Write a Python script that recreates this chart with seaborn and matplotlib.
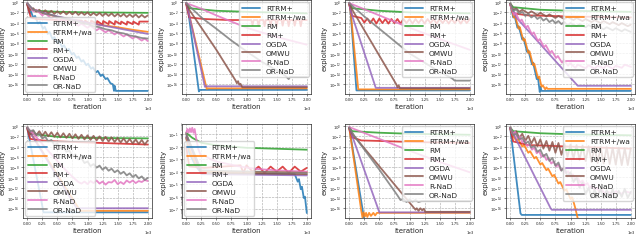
import seaborn as sns
import matplotlib
matplotlib.use("Agg")
import matplotlib.pyplot as plt
import pandas as pd
import numpy as np
from matplotlib.ticker import MultipleLocator, ScalarFormatter

methods = ["RTRM+", "RTRM+/wa", "RM", "RM+", "OGDA", "OMWU", "R-NaD", "OR-NaD"]

# every series: (iteration, log10 exploitability)

# ---- panel 1 (top left)
a1_rtrm = [(0, -0.3), (40, -2.2), (60, -1.8), (100, -3.0), (130, -2.7), (180, -4.2), (210, -3.8), (260, -5.2),
           (290, -4.8), (340, -6.2), (370, -5.8), (420, -7.2), (450, -6.8), (500, -8.0), (530, -7.6), (580, -8.8),
           (610, -8.4), (660, -9.5), (690, -9.1), (740, -10.2), (770, -9.9), (820, -10.9), (850, -10.6),
           (900, -11.6), (930, -11.3), (980, -12.3), (1010, -12.0), (1060, -13.0), (1090, -12.7), (1140, -13.7),
           (1170, -13.4), (1220, -14.4), (1250, -14.1), (1300, -15.0), (1330, -14.8), (1380, -15.8), (1420, -16.0),
           (1440, -17.3), (1450, -16.3), (1470, -17.3), (2000, -17.3)]
a1_wa = [(0, -0.3), (50, -1.3), (250, -2.1), (500, -2.9), (750, -3.5), (1000, -4.0), (1250, -4.5), (1500, -4.9),
         (1750, -5.4), (2000, -5.8)]
a1_rm = [(0, -0.3), (50, -1.3), (150, -1.7), (500, -1.9), (1000, -2.0), (1500, -2.05), (2000, -2.1)]
a1_rmp = [(0, -0.5), (60, -3.0), (150, -3.3), (500, -3.5), (900, -3.6), (950, -4.2), (960, -3.6), (1050, -4.3),
          (1060, -3.6), (1150, -4.2), (1160, -3.7), (1250, -4.4), (1260, -3.7), (1350, -4.3), (1360, -3.7),
          (1450, -4.4), (1460, -3.7), (1550, -4.3), (1560, -3.8), (1650, -4.4), (1660, -3.8), (1750, -4.3),
          (1760, -3.8), (1850, -4.4), (1860, -3.8), (2000, -3.8)]
a1_ogda = [(0, -0.3), (100, -1.5), (500, -2.8), (1000, -4.0), (1500, -5.1), (2000, -6.2)]
a1_omwu = [(0, -0.5), (50, -1.6), (100, -1.2), (150, -1.9), (200, -1.5), (250, -2.1), (300, -1.6), (350, -2.2),
           (400, -1.7), (450, -2.3), (500, -1.8), (550, -2.3), (600, -1.8), (650, -2.4), (700, -1.9), (750, -2.4),
           (800, -1.9), (850, -2.5), (900, -2.0), (950, -2.5), (1000, -2.0), (1050, -2.6), (1100, -2.1),
           (1150, -2.6), (1200, -2.1), (1250, -2.7), (1300, -2.2), (1350, -2.7), (1400, -2.2), (1450, -2.8),
           (1500, -2.3), (1550, -2.8), (1600, -2.3), (1650, -2.9), (1700, -2.4), (1750, -2.9), (1800, -2.4),
           (1850, -3.0), (1900, -2.5), (1950, -3.0), (2000, -2.6)]
a1_rnad = [(0, -0.2), (100, -1.8), (150, -1.5), (250, -2.6), (300, -2.2), (400, -3.2), (450, -2.8), (550, -3.7),
           (600, -3.3), (700, -4.2), (750, -3.8), (850, -4.6), (900, -4.2), (1000, -5.0), (1050, -4.6),
           (1150, -5.5), (1200, -5.1), (1300, -5.9), (1350, -5.5), (1450, -6.3), (1500, -5.9), (1600, -6.7),
           (1650, -6.3), (1750, -7.1), (1800, -6.7), (1900, -7.5), (1950, -7.1), (2000, -7.6)]
a1_ornad = [(0, -0.2), (100, -1.5), (200, -1.8), (300, -2.3), (400, -2.5), (500, -2.9), (600, -3.1), (700, -3.5),
            (800, -3.7), (900, -4.1), (1000, -4.3), (1100, -4.7), (1200, -4.9), (1300, -5.3), (1400, -5.5),
            (1500, -5.9), (1600, -6.1), (1700, -6.5), (1800, -6.7), (1900, -7.0), (2000, -7.1)]

# ---- panel 2
a2_rtrm = [(0, -0.2), (30, -1.5), (210, -17.4), (230, -17.1), (2000, -17.1)]
a2_wa = [(0, -0.2), (40, -2.0), (340, -16.9), (360, -16.8), (2000, -16.8)]
a2_rm = [(0, -0.2), (50, -1.2), (500, -1.7), (1000, -1.9), (2000, -2.2)]
a2_rmp = [(0, -0.5), (50, -3.0), (300, -3.3), (700, -3.5), (1080, -3.5), (1100, -4.5), (1120, -3.5),
          (1180, -3.5), (1200, -4.6), (1220, -3.5), (1280, -3.5), (1300, -4.7), (1320, -3.5), (1380, -3.5),
          (1400, -4.6), (1420, -3.5), (1480, -3.5), (1500, -4.7), (1520, -3.5), (1580, -3.5), (1600, -4.6),
          (1620, -3.5), (1680, -3.5), (1700, -4.7), (1720, -3.5), (1780, -3.5), (1800, -4.6), (1820, -3.5),
          (1880, -3.5), (1900, -4.7), (1920, -3.5), (2000, -3.5)]
a2_ogda = [(0, -0.2), (40, -2.0), (310, -16.5), (330, -16.4), (2000, -16.4)]
a2_omwu = [(0, -0.3), (50, -1.5), (500, -9.3), (820, -15.3), (840, -15.8), (860, -15.4), (880, -16.1),
           (900, -15.9), (930, -16.6), (2000, -16.6)]
a2_rnad = [(0, -0.2), (250, -1.3), (500, -2.6), (1000, -5.0), (1500, -6.8), (2000, -8.3)]
a2_ornad = [(0, -0.2), (250, -3.0), (500, -5.2), (750, -7.5), (1000, -9.6), (1250, -11.6), (1500, -13.3),
            (1650, -14.4), (1700, -15.0), (1720, -14.6), (2000, -14.6)]

# ---- panel 3
a3_rtrm = [(0, -0.2), (20, -1.5), (120, -17.2), (2000, -17.2)]
a3_wa = [(0, -0.2), (20, -1.5), (150, -17.0), (2000, -17.0)]
a3_rm = [(0, -0.2), (50, -1.2), (500, -1.7), (1000, -2.0), (2000, -2.2)]
a3_rmp = [(0, -0.5), (50, -2.7), (200, -3.1), (250, -4.0), (300, -3.2), (350, -4.1), (400, -3.2), (450, -4.2),
          (500, -3.2), (550, -4.1), (600, -3.3), (650, -4.2), (700, -3.3), (750, -4.1), (800, -3.3), (850, -4.2),
          (900, -3.3), (950, -4.1), (1000, -3.3), (1050, -4.2), (1100, -3.3), (1150, -4.1), (1200, -3.3),
          (1250, -4.2), (1300, -3.3), (1350, -4.1), (1400, -3.3), (1450, -4.2), (1500, -3.3), (1550, -4.1),
          (1600, -3.3), (1650, -4.2), (1700, -3.3), (1750, -4.1), (1800, -3.3), (1850, -4.2), (1900, -3.3),
          (1950, -4.1), (2000, -3.3)]
a3_ogda = [(0, -0.2), (30, -2.0), (440, -16.7), (2000, -16.7)]
a3_omwu = [(0, -0.3), (50, -1.5), (780, -16.0), (800, -16.6), (820, -16.2), (840, -16.8), (2000, -16.8)]
a3_rnad = [(0, -0.2), (500, -2.6), (1000, -5.0), (1500, -7.2), (2000, -9.3)]
a3_ornad = [(0, -0.2), (250, -2.8), (500, -5.2), (1000, -10.0), (1500, -13.6), (1700, -14.8), (1750, -15.3),
            (2000, -15.3)]

# ---- panel 4
a4_rtrm = [(0, -0.3), (50, -3.0), (70, -2.6), (120, -5.0), (140, -4.7), (200, -7.3), (220, -7.0), (280, -9.7),
           (300, -9.4), (360, -12.1), (380, -11.8), (440, -15.0), (460, -14.7), (490, -17.5), (500, -16.5),
           (520, -17.3), (2000, -17.3)]
a4_wa = [(0, -0.3), (60, -3.0), (80, -2.7), (140, -5.2), (160, -4.9), (220, -7.5), (240, -7.2), (300, -9.9),
         (320, -9.6), (380, -12.3), (400, -12.0), (460, -14.8), (480, -14.5), (520, -16.5), (540, -16.2),
         (580, -17.0), (600, -16.6), (620, -16.9), (2000, -16.9)]
a4_rm = [(0, -0.3), (50, -1.0), (500, -1.5), (1000, -1.7), (2000, -1.9)]
a4_rmp = [(0, -0.5), (50, -2.2), (300, -2.6), (1000, -2.8), (2000, -3.0)]
a4_ogda = [(0, -0.3), (100, -3.0), (1120, -16.3), (2000, -16.3)]
a4_omwu = [(0, -0.3), (50, -1.5), (100, -1.2), (150, -1.9), (200, -1.5), (300, -2.2), (350, -1.8), (450, -2.5),
           (500, -2.1), (600, -2.8), (650, -2.4), (750, -3.1), (800, -2.7), (900, -3.3), (950, -2.9),
           (1050, -3.5), (1100, -3.1), (1200, -3.7), (1250, -3.3), (1350, -3.9), (1400, -3.5), (1500, -4.1),
           (1550, -3.7), (1650, -4.3), (1700, -3.9), (1800, -4.5), (1850, -4.1), (1950, -4.7), (2000, -4.4)]
a4_rnad = [(0, -0.5), (60, -2.5), (90, -2.1), (160, -3.8), (190, -3.4), (260, -5.0), (290, -4.6), (360, -6.3),
           (390, -5.9), (460, -7.6), (490, -7.2), (560, -8.8), (590, -8.4), (660, -9.9), (690, -9.5),
           (760, -10.9), (790, -10.5), (860, -11.8), (890, -11.3), (960, -12.4), (990, -11.9), (1080, -12.8),
           (1120, -12.2), (1250, -12.9), (1300, -12.3), (1400, -13.0), (1450, -12.4), (1550, -12.9),
           (1600, -12.3), (1700, -13.0), (1750, -12.4), (1850, -12.8), (1900, -12.2), (2000, -12.6)]
a4_ornad = [(0, -0.3), (50, -1.8), (100, -1.4), (150, -2.3), (200, -1.9), (250, -2.7), (300, -2.3), (350, -3.0),
            (400, -2.6), (450, -3.3), (500, -2.9), (550, -3.6), (600, -3.2), (650, -3.9), (700, -3.5),
            (750, -4.1), (800, -3.7), (850, -4.3), (900, -3.9), (950, -4.5), (1000, -4.1), (1100, -4.7),
            (1150, -4.3), (1250, -4.9), (1300, -4.5), (1400, -5.1), (1450, -4.7), (1550, -5.3), (1600, -4.9),
            (1700, -5.5), (1750, -5.1), (1850, -5.7), (1900, -5.3), (2000, -5.8)]

# ---- panel 5 (bottom left)
a5_rtrm = [(0, -0.3), (270, -16.8), (2000, -16.8)]
a5_wa = [(0, -0.3), (880, -16.5), (2000, -16.5)]
a5_rm = [(0, -0.3), (50, -1.5), (500, -2.1), (1000, -2.3), (2000, -2.4)]
a5_rmp = [(0, -0.5), (50, -2.5), (250, -2.8), (500, -3.0), (1000, -3.2), (1500, -3.4), (2000, -3.6)]
a5_ogda = [(0, -0.3), (820, -16.0), (2000, -16.0)]
a5_omwu = [(0, -0.3), (50, -1.7), (100, -0.9), (150, -1.8), (200, -1.0), (250, -1.9), (300, -1.1), (350, -2.0),
           (400, -1.2), (450, -2.1), (500, -1.3), (550, -2.2), (600, -1.4), (650, -2.3), (700, -1.5),
           (750, -2.4), (800, -1.6), (850, -2.5), (900, -1.7), (950, -2.6), (1000, -1.8), (1050, -2.7),
           (1100, -1.9), (1150, -2.8), (1200, -2.0), (1250, -2.9), (1300, -2.1), (1350, -3.0), (1400, -2.2),
           (1450, -3.1), (1500, -2.3), (1550, -3.2), (1600, -2.4), (1650, -3.3), (1700, -2.5), (1750, -3.4),
           (1800, -2.6), (1850, -3.5), (1900, -2.7), (1950, -3.6), (2000, -2.8)]
a5_rnad = [(0, -0.3), (100, -1.5), (200, -2.8), (300, -4.2), (400, -5.5), (500, -6.8), (600, -8.1), (700, -9.3),
           (800, -10.4), (850, -10.9), (900, -11.2), (950, -10.8), (1000, -11.3), (1050, -10.7), (1100, -11.1),
           (1150, -10.6), (1200, -11.2), (1250, -10.8), (1300, -11.4), (1350, -10.9), (1400, -11.0),
           (1450, -10.5), (1500, -11.3), (1550, -10.9), (1600, -11.3), (1650, -10.6), (1700, -11.0),
           (1750, -10.6), (1800, -11.1), (1850, -10.7), (1900, -10.9), (1950, -10.5), (2000, -10.7)]
a5_ornad = [(0, -0.3), (50, -1.0), (100, -0.8), (150, -1.7), (200, -1.5), (250, -2.4), (300, -2.1), (350, -3.0),
            (400, -2.7), (450, -3.7), (500, -3.4), (550, -4.3), (600, -4.1), (650, -5.0), (700, -4.8),
            (750, -5.8), (800, -5.5), (850, -6.5), (900, -6.2), (950, -7.2), (1000, -6.9), (1050, -7.8),
            (1100, -7.4), (1150, -8.1), (1200, -7.7), (1250, -8.5), (1300, -8.0), (1350, -8.7), (1400, -8.3),
            (1450, -9.0), (1500, -8.6), (1550, -9.3), (1600, -8.9), (1650, -9.6), (1700, -9.2), (1750, -9.9),
            (1800, -9.5), (1850, -10.2), (1900, -9.8), (1950, -10.5), (2000, -10.1)]

# ---- panel 6
a6_rtrm = [(0, -1.3), (50, -2.5), (150, -3.5), (250, -4.1), (1000, -4.15), (1800, -4.2), (1850, -4.8),
           (1870, -4.6), (1900, -5.4), (1920, -5.2), (1950, -6.1), (1970, -6.0), (2000, -7.3)]
a6_wa = [(0, -1.3), (50, -2.2), (150, -3.3), (250, -4.0), (2000, -4.05)]
a6_rm = [(0, -0.9), (100, -1.3), (250, -1.7), (500, -1.9), (1000, -2.1), (2000, -2.25)]
a6_rmp = [(0, -2.0), (50, -3.6), (300, -3.7), (600, -3.6), (900, -3.5), (950, -4.1), (1000, -3.5), (1100, -4.0),
          (1200, -3.6), (1300, -4.1), (1400, -3.6), (1500, -4.0), (1600, -3.6), (1700, -4.1), (1800, -3.6),
          (1900, -4.0), (2000, -3.7)]
a6_ogda = [(0, -1.2), (250, -4.2), (2000, -4.3)]
a6_omwu = [(0, -1.0), (250, -4.1), (2000, -4.2)]
a6_rnad = [(0, -0.9), (20, -0.6), (40, -0.9), (60, -0.55), (80, -0.85), (100, -0.5), (120, -0.9), (140, -0.6),
           (160, -1.2), (200, -2.2), (250, -2.8), (300, -2.7), (400, -3.0), (500, -3.2), (700, -3.4),
           (900, -3.6), (1200, -3.8), (1500, -3.9), (2000, -4.0)]
a6_ornad = [(0, -1.0), (250, -3.9), (2000, -4.1)]

# ---- panel 7
a7_rtrm = [(0, -0.3), (260, -19.0)]
a7_wa = [(0, -0.3), (200, -16.5), (220, -17.8), (240, -16.8), (260, -17.6), (280, -16.9), (300, -17.7),
         (330, -16.9), (360, -17.5), (400, -16.9), (430, -17.4), (460, -16.9), (2000, -16.9)]
a7_rm = [(0, -0.3), (50, -1.0), (500, -1.3), (1000, -1.5), (2000, -1.7)]
a7_rmp = [(0, -0.5), (50, -2.2), (200, -2.8), (500, -2.9), (1000, -3.1), (2000, -3.3)]
a7_ogda = [(0, -0.3), (500, -16.8), (2000, -16.8)]
a7_omwu = [(0, -0.3), (50, -1.5), (1100, -16.3), (1120, -16.0), (1150, -16.5), (1180, -16.0), (1210, -16.4),
           (1240, -16.1), (1260, -16.7), (2000, -16.7)]
a7_rnad = [(0, -0.2), (500, -2.5), (1000, -4.8), (1500, -7.0), (2000, -9.0)]
a7_ornad = [(0, -0.3), (100, -2.2), (500, -8.5), (800, -13.5), (850, -14.4), (900, -14.2), (950, -14.8),
            (1000, -14.3), (1050, -14.7), (1100, -14.4), (1150, -14.8), (1200, -14.6), (2000, -14.6)]

# ---- panel 8
a8_rtrm = [(0, -0.3), (170, -17.0), (190, -17.3), (2000, -17.3)]
a8_wa = [(0, -0.3), (50, -2.0), (100, -2.8), (130, -2.5), (200, -4.0), (230, -3.7), (300, -5.2), (330, -4.9),
         (400, -6.3), (430, -6.0), (500, -7.5), (530, -7.2), (600, -8.6), (630, -8.3), (700, -9.8), (730, -9.5),
         (800, -11.2), (830, -10.9), (900, -12.6), (930, -12.3), (1000, -14.2), (1030, -13.9), (1080, -16.0),
         (1100, -17.0), (1130, -18.5)]
a8_rm = [(0, -0.3), (50, -1.0), (500, -1.4), (1000, -1.6), (2000, -1.8)]
a8_rmp = [(0, -0.5), (50, -3.0), (300, -3.7), (1000, -4.0), (2000, -4.4)]
a8_ogda = [(0, -0.3), (670, -16.0), (690, -16.3), (2000, -16.3)]
a8_omwu = [(0, -0.3), (50, -1.6), (100, -1.0), (150, -2.3), (200, -1.5), (250, -2.9), (300, -1.9), (350, -3.4),
           (400, -2.3), (450, -3.9), (500, -2.6), (550, -4.4), (600, -2.9), (650, -4.8), (700, -3.1),
           (750, -5.2), (800, -3.3), (850, -5.6), (900, -3.5), (950, -6.0), (1000, -3.6), (1050, -6.3),
           (1100, -3.7), (1150, -6.6), (1200, -3.8), (1250, -6.8), (1300, -3.9), (1350, -7.0), (1400, -4.0),
           (1450, -7.2), (1500, -4.1), (1550, -7.3), (1600, -4.1), (1650, -7.4), (1700, -4.2), (1750, -7.5),
           (1800, -4.2), (1850, -7.6), (1900, -4.3), (1950, -7.6), (2000, -4.3)]
a8_rnad = [(0, -0.3), (40, -1.5), (80, -1.1), (120, -2.4), (160, -2.0), (200, -3.2), (240, -2.8), (280, -3.9),
           (320, -3.5), (360, -4.6), (400, -4.2), (440, -5.3), (480, -4.9), (520, -6.0), (560, -5.6),
           (600, -6.6), (640, -6.2), (680, -7.3), (720, -6.9), (760, -7.9), (800, -7.5), (840, -8.6),
           (880, -8.2), (920, -9.2), (960, -8.8), (1000, -9.8), (1040, -9.4), (1080, -10.4), (1120, -10.0),
           (1160, -11.0), (1200, -10.6), (1240, -11.5), (1280, -11.1), (1320, -12.0), (1360, -11.6),
           (1400, -12.4), (1440, -12.0), (1480, -12.8), (1520, -12.4), (1560, -13.1), (1600, -12.7),
           (1700, -13.2), (1750, -12.7), (1850, -13.2), (1900, -12.7), (2000, -13.0)]
a8_ornad = [(0, -0.3), (50, -1.8), (100, -1.5), (150, -2.6), (200, -2.3), (250, -3.4), (300, -3.0), (350, -4.2),
            (400, -3.8), (450, -5.0), (500, -4.6), (550, -5.9), (600, -5.4), (650, -6.8), (700, -6.2),
            (750, -7.7), (800, -7.1), (850, -8.7), (900, -8.0), (950, -9.8), (1000, -9.0), (1050, -10.9),
            (1100, -10.0), (1150, -12.0), (1200, -11.0), (1250, -13.3), (1300, -12.0), (1350, -14.0),
            (1400, -12.4), (1450, -13.8), (1500, -12.2), (1550, -14.1), (1600, -12.5), (1650, -13.9),
            (1700, -12.3), (1750, -14.2), (1800, -12.6), (1850, -13.8), (1900, -12.2), (1950, -14.0), (2000, -12.8)]

panels = [
    [a1_rtrm, a1_wa, a1_rm, a1_rmp, a1_ogda, a1_omwu, a1_rnad, a1_ornad],
    [a2_rtrm, a2_wa, a2_rm, a2_rmp, a2_ogda, a2_omwu, a2_rnad, a2_ornad],
    [a3_rtrm, a3_wa, a3_rm, a3_rmp, a3_ogda, a3_omwu, a3_rnad, a3_ornad],
    [a4_rtrm, a4_wa, a4_rm, a4_rmp, a4_ogda, a4_omwu, a4_rnad, a4_ornad],
    [a5_rtrm, a5_wa, a5_rm, a5_rmp, a5_ogda, a5_omwu, a5_rnad, a5_ornad],
    [a6_rtrm, a6_wa, a6_rm, a6_rmp, a6_ogda, a6_omwu, a6_rnad, a6_ornad],
    [a7_rtrm, a7_wa, a7_rm, a7_rmp, a7_ogda, a7_omwu, a7_rnad, a7_ornad],
    [a8_rtrm, a8_wa, a8_rm, a8_rmp, a8_ogda, a8_omwu, a8_rnad, a8_ornad],
]
legend_locs = ["lower left", "upper right", "upper right", "upper right",
               "lower left", "lower left", "upper right", "upper right"]
ylims = [(-17.9, 0.4)] * 5 + [(-7.7, -0.2)] + [(-17.9, 0.4)] * 2

sns.set_style("ticks", {"axes.grid": True, "grid.linestyle": "--", "grid.color": "#b0b0b0"})
palette = sns.color_palette("tab10", 8)

W, H = 640, 251
fig = plt.figure(figsize=(W / 100, H / 100), dpi=100)
lefts = [23, 182, 345, 506]
tops = [1, 125]
aw, ah = 129, 94

for i, series in enumerate(panels):
    r, c = divmod(i, 4)
    ax = fig.add_axes([lefts[c] / W, 1 - (tops[r] + ah) / H, aw / W, ah / H])
    rows = []
    for m, pts in zip(methods, series):
        for it, lg in pts:
            rows.append((m, it, 10.0 ** lg))
    df = pd.DataFrame(rows, columns=["method", "iteration", "exploitability"])
    sns.lineplot(data=df, x="iteration", y="exploitability", hue="method", hue_order=methods,
                 palette=palette, estimator=None, sort=False, linewidth=1.3, alpha=0.85,
                 legend=False, ax=ax)
    ax.set_yscale("log")
    ax.set_ylim(10 ** ylims[i][0], 10 ** ylims[i][1])
    ax.set_xlim(-70, 2070)
    ax.xaxis.set_major_locator(MultipleLocator(250))
    fmt = ScalarFormatter()
    fmt.set_powerlimits((0, 0))
    ax.xaxis.set_major_formatter(fmt)
    ax.xaxis.get_offset_text().set_fontsize(2.8)
    ax.tick_params(labelsize=2.8, length=1.5, width=0.4, pad=1)
    ax.tick_params(which="minor", length=0.8, width=0.3)
    ax.grid(True, which="major", linestyle="--", linewidth=0.45, color="#b0b0b0")
    for s in ax.spines.values():
        s.set_linewidth(0.5)
    ax.set_xlabel("iteration", fontsize=5, labelpad=1)
    ax.set_ylabel("exploitability", fontsize=5, labelpad=1)
    handles = ax.get_lines()[:len(methods)]
    ax.legend(handles, methods, loc=legend_locs[i], fontsize=5.3, handlelength=2.5,
              labelspacing=0.38, borderpad=0.4, framealpha=0.8, borderaxespad=0.3)

fig.savefig("out.png", dpi=100)
plt.close(fig)
